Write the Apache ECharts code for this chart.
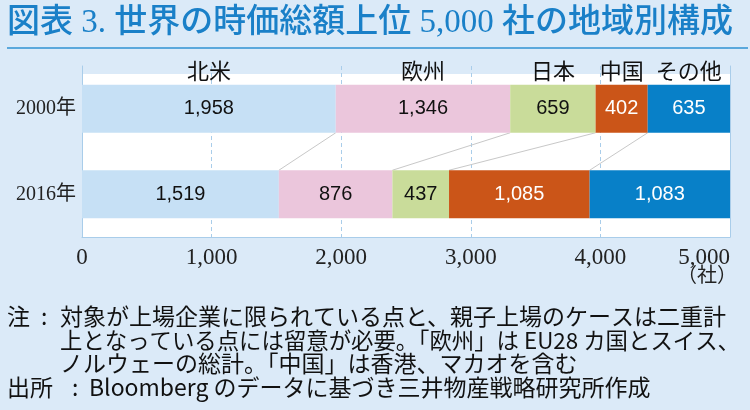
<!DOCTYPE html>
<html><head><meta charset="utf-8">
<script src="https://cdn.jsdelivr.net/npm/echarts@6/dist/echarts.min.js"></script>
<style>html,body{margin:0;padding:0;background:#dbeaf8;overflow:hidden;}#c{width:750px;height:410px;}</style>
</head><body><div id="c"></div>
<script>
const years = ['2000年', '2016年'];
const regions = ['北米', '欧州', '日本', '中国', 'その他'];
const northAmerica = [1958, 1519];
const europe = [1346, 876];
const japan = [659, 437];
const china = [402, 1085];
const others = [635, 1083];
const xTicks = [0, 1000, 2000, 3000, 4000, 5000];
const titleText = '図表 3. 世界の時価総額上位 5,000 社の地域別構成';
const unitText = '（社）';
const noteLines = ['対象が上場企業に限られている点と、親子上場のケースは二重計', '上となっている点には留意が必要。「欧州」は EU28 カ国とスイス、', 'ノルウェーの総計。「中国」は香港、マカオを含む'];
const sourceText = 'Bloomberg のデータに基づき三井物産戦略研究所作成';

const seriesValues = [northAmerica, europe, japan, china, others];
const colors = ['#c6e0f5', '#ebc6dc', '#c9dc9a', '#cb5518', '#0880c8'];
const labelColors = ['#111', '#111', '#111', '#fff', '#fff'];
const BAR_W = 48;

const cum = [[], []];
[0, 1].forEach(y => { let s = 0; seriesValues.forEach(v => { s += v[y]; cum[y].push(s); }); });
const connectorData = [0, 1, 2, 3].map(i => [cum[0][i], cum[1][i]]);
const regionLabelData = regions.map((r, i) => [cum[0][i] - seriesValues[i][0] / 2, r]);

const fmt = v => String(v).replace(/\B(?=(\d{3})+(?!\d))/g, ',');

const chart = echarts.init(document.getElementById('c'), null, {renderer: 'canvas'});
const series = regions.map((r, i) => ({
  name: r, type: 'bar', stack: 'all', barWidth: BAR_W, z: 3,
  data: seriesValues[i],
  itemStyle: {color: colors[i]},
  label: {show: true, position: 'inside', formatter: p => fmt(p.value), color: labelColors[i],
    fontFamily: 'Liberation Sans, Arial, sans-serif', fontSize: 20}
}));
series.push({
  type: 'custom', z: 2, silent: true,
  data: connectorData,
  renderItem: (params, api) => {
    const a = api.coord([api.value(0), 0]);
    const b = api.coord([api.value(1), 1]);
    return {type: 'line', shape: {x1: a[0], y1: a[1] + BAR_W / 2, x2: b[0], y2: b[1] - BAR_W / 2},
      style: {stroke: '#c8c8c8', lineWidth: 1}};
  }
});
series.push({
  type: 'custom', z: 4, silent: true,
  data: regionLabelData,
  encode: {x: 0},
  renderItem: (params, api) => {
    const p = api.coord([api.value(0), 0]);
    return {type: 'text', x: p[0], y: p[1] - BAR_W / 2 - 14,
      style: {text: regionLabelData[params.dataIndex][1], align: 'center', verticalAlign: 'middle',
        font: '22px "Noto Sans CJK JP", sans-serif', fill: '#111'}};
  }
});

const noteFont = '23px "Noto Sans CJK JP", sans-serif';
const graphic = [
  {type: 'text', left: 7, top: 7, style: {text: titleText, font: '500 33px "Liberation Serif", "Noto Sans CJK JP", serif', fill: '#1a80c8'}},
  {type: 'line', shape: {x1: 7, y1: 48, x2: 748, y2: 48}, style: {stroke: '#5aa8dc', lineWidth: 2}},
  {type: 'rect', z: -1, shape: {x: 82, y: 74, width: 648, height: 163}, style: {fill: '#fff'}},
  {type: 'text', x: 737, y: 277, style: {text: unitText, align: 'right', verticalAlign: 'middle', font: '20px "Liberation Serif", "Noto Sans CJK JP", serif', fill: '#222'}},
  {type: 'text', x: 7, y: 316, style: {text: '注', verticalAlign: 'middle', font: noteFont, fill: '#111'}},
  {type: 'text', x: 41, y: 316, style: {text: ':', verticalAlign: 'middle', font: noteFont, fill: '#111'}},
  {type: 'text', x: 60, y: 316, style: {text: noteLines[0], verticalAlign: 'middle', font: noteFont, fill: '#111'}},
  {type: 'text', x: 60, y: 340, style: {text: noteLines[1], verticalAlign: 'middle', font: '22.4px "Noto Sans CJK JP", sans-serif', fill: '#111'}},
  {type: 'text', x: 60, y: 363, style: {text: noteLines[2], verticalAlign: 'middle', font: noteFont, fill: '#111'}},
  {type: 'text', x: 7, y: 387, style: {text: '出所', verticalAlign: 'middle', font: noteFont, fill: '#111'}},
  {type: 'text', x: 72, y: 387, style: {text: ':', verticalAlign: 'middle', font: noteFont, fill: '#111'}},
  {type: 'text', x: 89, y: 387, style: {text: sourceText, verticalAlign: 'middle', font: noteFont, fill: '#111'}}
];

chart.setOption({
  animation: false,
  backgroundColor: '#dbeaf8',
  grid: {left: 82, right: 20, top: 66, bottom: 173, containLabel: false, outerBoundsMode: 'none'},
  xAxis: {
    type: 'value', min: xTicks[0], max: xTicks[xTicks.length - 1], interval: xTicks[1] - xTicks[0],
    axisLine: {show: true, lineStyle: {color: '#a9cdea'}},
    axisTick: {show: false},
    splitLine: {show: true, lineStyle: {color: '#a9cdea', type: [4, 3]}},
    axisLabel: {formatter: v => fmt(v), color: '#222', fontFamily: 'Liberation Serif, serif', fontSize: 23, margin: 9,
      alignMaxLabel: 'right'}
  },
  yAxis: [{
    type: 'category', data: years, inverse: true,
    axisLine: {show: true, lineStyle: {color: '#a9cdea'}},
    axisTick: {show: false},
    axisLabel: {color: '#222', fontFamily: 'Liberation Serif, "Noto Sans CJK JP", serif', fontSize: 20, margin: 6}
  }, {
    type: 'category', data: years, inverse: true, position: 'right',
    axisLine: {show: true, lineStyle: {color: '#a9cdea'}},
    axisTick: {show: false}, axisLabel: {show: false}
  }],
  series: series,
  graphic: graphic
});
</script></body></html>
